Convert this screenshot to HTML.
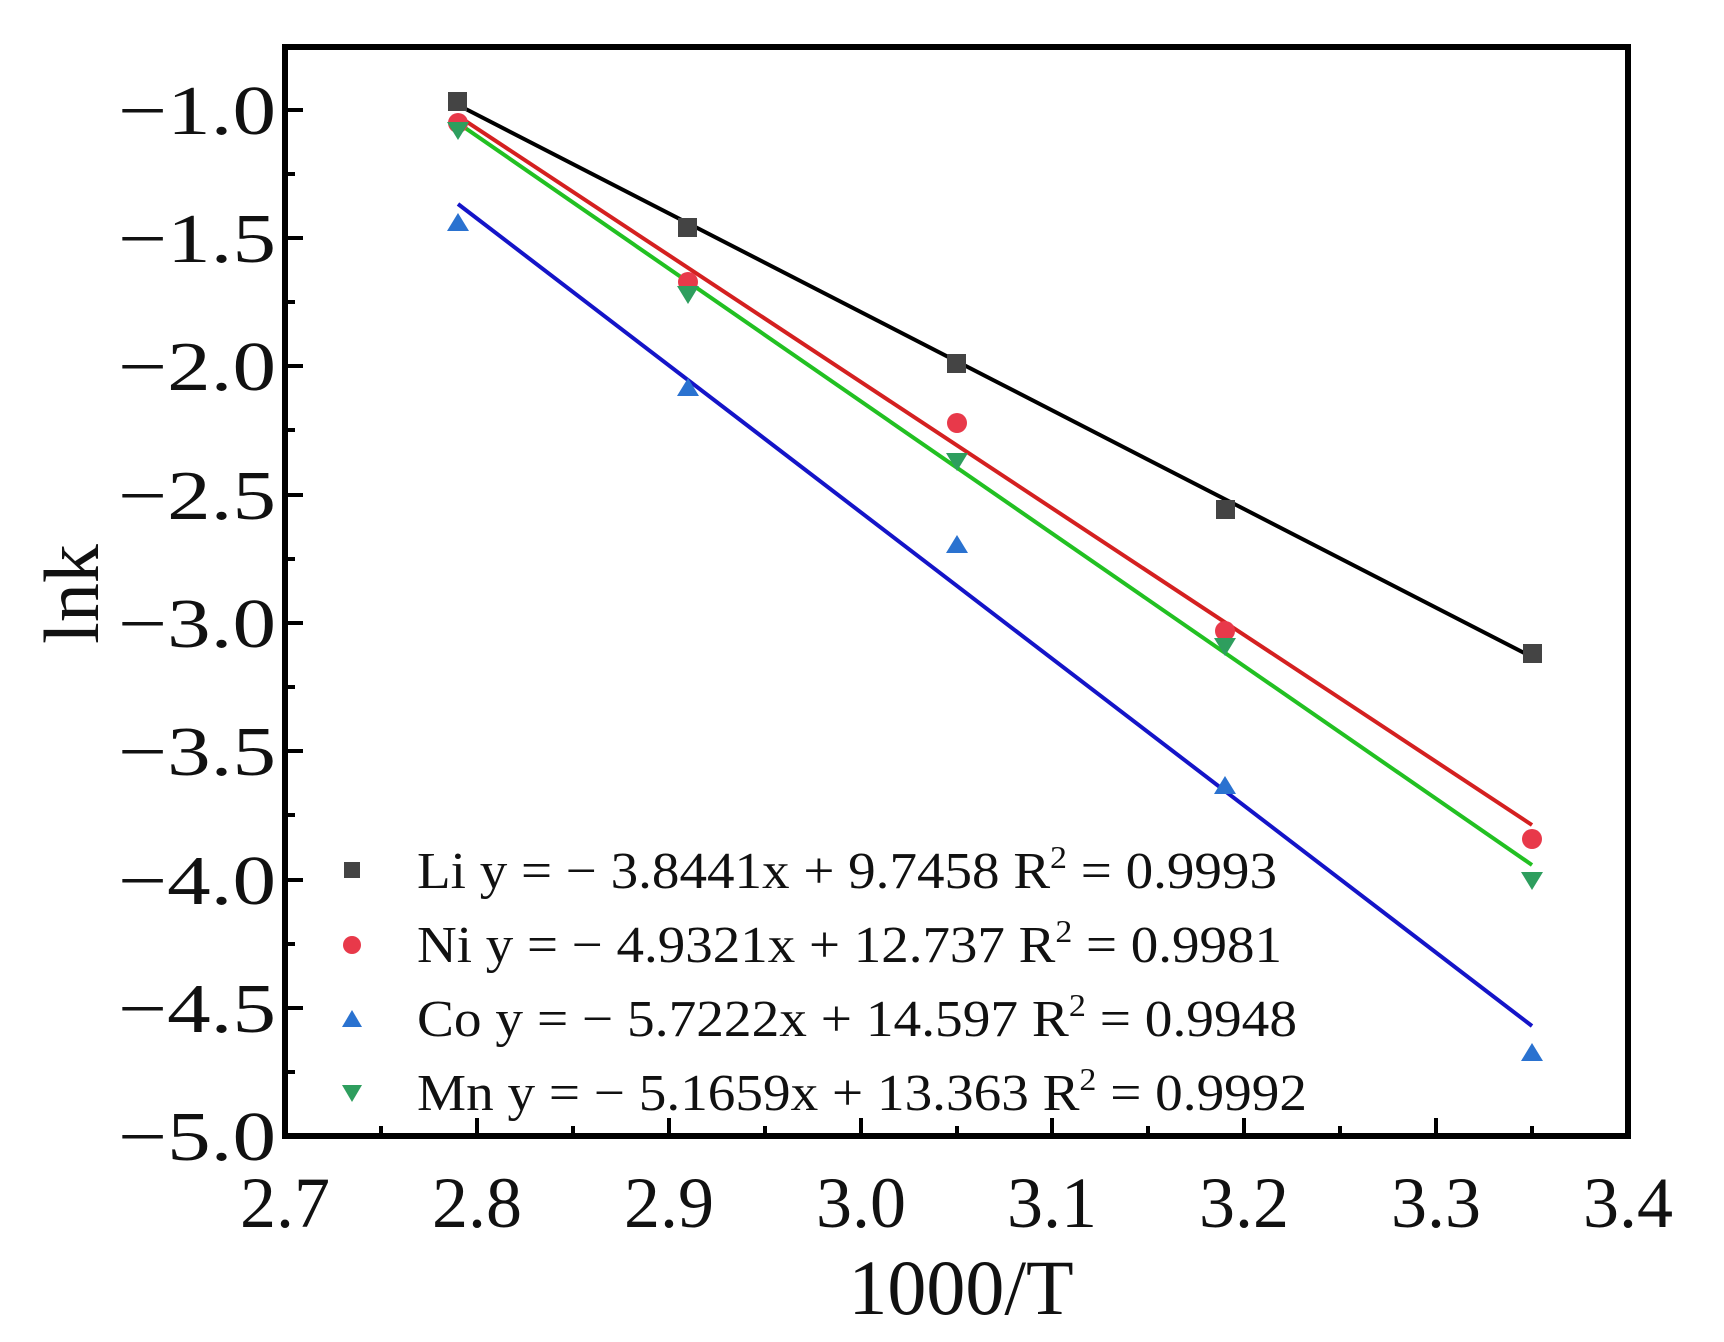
<!DOCTYPE html>
<html><head><meta charset="utf-8"><style>
html,body{margin:0;padding:0;background:#fff;overflow:hidden;}
svg{display:block;}
text{font-family:"Liberation Serif",serif;fill:#111;}
</style></head><body>
<svg width="1724" height="1342" viewBox="0 0 1724 1342" xmlns="http://www.w3.org/2000/svg">
<g stroke="#000" stroke-width="4">
<line x1="285" y1="110" x2="303" y2="110"/>
<line x1="285" y1="174" x2="295" y2="174"/>
<line x1="285" y1="238" x2="303" y2="238"/>
<line x1="285" y1="302" x2="295" y2="302"/>
<line x1="285" y1="366" x2="303" y2="366"/>
<line x1="285" y1="430" x2="295" y2="430"/>
<line x1="285" y1="495" x2="303" y2="495"/>
<line x1="285" y1="559" x2="295" y2="559"/>
<line x1="285" y1="623" x2="303" y2="623"/>
<line x1="285" y1="687" x2="295" y2="687"/>
<line x1="285" y1="751" x2="303" y2="751"/>
<line x1="285" y1="815" x2="295" y2="815"/>
<line x1="285" y1="880" x2="303" y2="880"/>
<line x1="285" y1="944" x2="295" y2="944"/>
<line x1="285" y1="1008" x2="303" y2="1008"/>
<line x1="285" y1="1072" x2="295" y2="1072"/>
<line x1="381" y1="1136" x2="381" y2="1126"/>
<line x1="477" y1="1136" x2="477" y2="1118"/>
<line x1="573" y1="1136" x2="573" y2="1126"/>
<line x1="669" y1="1136" x2="669" y2="1118"/>
<line x1="765" y1="1136" x2="765" y2="1126"/>
<line x1="861" y1="1136" x2="861" y2="1118"/>
<line x1="957" y1="1136" x2="957" y2="1126"/>
<line x1="1052" y1="1136" x2="1052" y2="1118"/>
<line x1="1148" y1="1136" x2="1148" y2="1126"/>
<line x1="1244" y1="1136" x2="1244" y2="1118"/>
<line x1="1340" y1="1136" x2="1340" y2="1126"/>
<line x1="1436" y1="1136" x2="1436" y2="1118"/>
<line x1="1532" y1="1136" x2="1532" y2="1126"/>
</g>
<rect x="285" y="47" width="1343" height="1089" fill="none" stroke="#000" stroke-width="6"/>
<line x1="458" y1="105" x2="1532" y2="657" stroke="#000" stroke-width="4"/>
<line x1="458" y1="116" x2="1532" y2="825" stroke="#d42020" stroke-width="4"/>
<line x1="458" y1="204" x2="1532" y2="1026" stroke="#1414c8" stroke-width="4"/>
<line x1="458" y1="123" x2="1532" y2="865" stroke="#22c022" stroke-width="4"/>
<g fill="#444">
<rect x="448" y="92" width="19" height="19"/>
<rect x="678" y="218" width="19" height="19"/>
<rect x="947" y="354" width="19" height="19"/>
<rect x="1216" y="500" width="19" height="19"/>
<rect x="1523" y="644" width="19" height="19"/>
</g>
<g fill="#e8394a">
<circle cx="458" cy="123" r="10"/>
<circle cx="688" cy="282" r="10"/>
<circle cx="957" cy="423" r="10"/>
<circle cx="1225" cy="631" r="10"/>
<circle cx="1532" cy="839" r="10"/>
</g>
<g fill="#2a72d0">
<polygon points="458,213 447,231 469,231"/>
<polygon points="688,378 677,396 699,396"/>
<polygon points="957,535 946,553 968,553"/>
<polygon points="1225,776 1214,794 1236,794"/>
<polygon points="1532,1043 1521,1061 1543,1061"/>
</g>
<g fill="#2e9e5e">
<polygon points="447,122 469,122 458,140"/>
<polygon points="677,286 699,286 688,304"/>
<polygon points="946,453 968,453 957,471"/>
<polygon points="1214,638 1236,638 1225,656"/>
<polygon points="1521,872 1543,872 1532,890"/>
</g>
<g font-size="70" text-anchor="end">
<text x="276" y="134" textLength="158" lengthAdjust="spacingAndGlyphs">−1.0</text>
<text x="276" y="262" textLength="158" lengthAdjust="spacingAndGlyphs">−1.5</text>
<text x="276" y="390" textLength="158" lengthAdjust="spacingAndGlyphs">−2.0</text>
<text x="276" y="519" textLength="158" lengthAdjust="spacingAndGlyphs">−2.5</text>
<text x="276" y="647" textLength="158" lengthAdjust="spacingAndGlyphs">−3.0</text>
<text x="276" y="775" textLength="158" lengthAdjust="spacingAndGlyphs">−3.5</text>
<text x="276" y="904" textLength="158" lengthAdjust="spacingAndGlyphs">−4.0</text>
<text x="276" y="1032" textLength="158" lengthAdjust="spacingAndGlyphs">−4.5</text>
<text x="276" y="1160" textLength="158" lengthAdjust="spacingAndGlyphs">−5.0</text>
</g>
<g font-size="72" text-anchor="middle">
<text x="285" y="1227">2.7</text>
<text x="477" y="1227">2.8</text>
<text x="669" y="1227">2.9</text>
<text x="861" y="1227">3.0</text>
<text x="1052" y="1227">3.1</text>
<text x="1244" y="1227">3.2</text>
<text x="1436" y="1227">3.3</text>
<text x="1628" y="1227">3.4</text>
</g>
<text x="961" y="1314" font-size="78" text-anchor="middle">1000/T</text>
<text transform="translate(98,594) rotate(-90)" font-size="78" text-anchor="middle">lnk</text>
<rect x="344" y="862" width="16" height="16" fill="#444"/>
<circle cx="352" cy="945" r="9" fill="#e8394a"/>
<polygon points="352,1010 342,1027 362,1027" fill="#2a72d0"/>
<polygon points="342,1085 362,1085 352,1102" fill="#2e9e5e"/>
<g font-size="52">
<text x="417" y="888" textLength="860" lengthAdjust="spacingAndGlyphs">Li  y = − 3.8441x + 9.7458  R<tspan dy="-20" font-size="32">2</tspan><tspan dy="20"> = 0.9993</tspan></text>
<text x="417" y="962" textLength="865" lengthAdjust="spacingAndGlyphs">Ni  y = − 4.9321x + 12.737  R<tspan dy="-20" font-size="32">2</tspan><tspan dy="20"> = 0.9981</tspan></text>
<text x="417" y="1036" textLength="880" lengthAdjust="spacingAndGlyphs">Co  y = − 5.7222x + 14.597  R<tspan dy="-20" font-size="32">2</tspan><tspan dy="20"> = 0.9948</tspan></text>
<text x="417" y="1110" textLength="890" lengthAdjust="spacingAndGlyphs">Mn  y = − 5.1659x + 13.363  R<tspan dy="-20" font-size="32">2</tspan><tspan dy="20"> = 0.9992</tspan></text>
</g>
</svg>
</body></html>
